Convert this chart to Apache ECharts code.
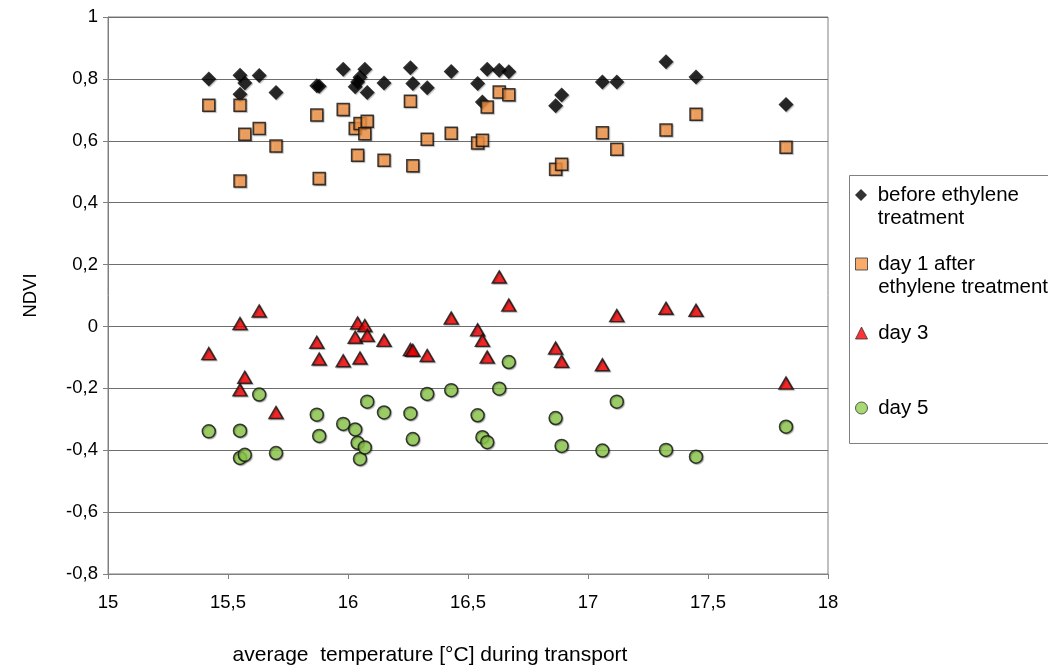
<!DOCTYPE html>
<html><head><meta charset="utf-8">
<script src="https://cdn.jsdelivr.net/npm/echarts@6/dist/echarts.min.js"></script>
<style>html,body{margin:0;padding:0;background:#fff}#c{width:1048px;height:665px}</style>
</head><body><div id="c"></div>
<script>
const temperature = [15.42,15.55,15.55,15.57,15.63,15.70,15.87,15.88,15.98,16.03,16.04,16.05,16.07,16.08,16.15,16.26,16.27,16.33,16.43,16.54,16.56,16.58,16.63,16.67,16.865,16.89,17.06,17.12,17.325,17.45,17.825];
const before = [0.800,0.812,0.750,0.787,0.811,0.756,0.778,0.776,0.831,0.775,0.790,0.805,0.831,0.756,0.787,0.836,0.785,0.771,0.824,0.785,0.725,0.831,0.828,0.823,0.713,0.748,0.790,0.790,0.855,0.806,0.717];
const day1 = [0.715,0.715,0.470,0.621,0.640,0.583,0.683,0.478,0.701,0.640,0.553,0.656,0.623,0.663,0.537,0.728,0.519,0.605,0.624,0.593,0.602,0.709,0.758,0.749,0.508,0.524,0.626,0.573,0.635,0.686,0.579];
const day3 = [-0.088,0.009,-0.205,-0.164,0.050,-0.278,-0.051,-0.105,-0.111,-0.035,0.011,-0.102,0.003,-0.029,-0.045,-0.075,-0.077,-0.094,0.027,-0.011,-0.045,-0.099,0.160,0.069,-0.070,-0.113,-0.124,0.035,0.059,0.052,-0.183];
const day5 = [-0.339,-0.337,-0.425,-0.415,-0.220,-0.409,-0.285,-0.354,-0.315,-0.333,-0.376,-0.428,-0.391,-0.243,-0.278,-0.281,-0.364,-0.218,-0.206,-0.287,-0.358,-0.374,-0.201,-0.115,-0.296,-0.386,-0.401,-0.243,-0.399,-0.421,-0.324];
const seriesNames = ['before ethylene treatment','day 1 after ethylene treatment','day 3','day 5'];
const legendLabels = [' \n before ethylene\n treatment',' \n day 1 after\n ethylene treatment',' day 3',' day 5'];

const FONT = 'Liberation Sans, Arial, sans-serif';
const pairs = v => temperature.map((t,i)=>[t,v[i]]);
const shadow = {shadowColor:'rgba(0,0,0,0.35)',shadowBlur:1,shadowOffsetX:1,shadowOffsetY:1};
const styles = [
  {symbol:'diamond',size:[15,15],item:{color:'#000',borderColor:'#000',borderWidth:0},icon:'diamond'},
  {symbol:'rect',size:[12,12],item:{color:'#F79646',borderColor:'#111',borderWidth:1.5},icon:'rect'},
  {symbol:'triangle',size:[14,12],item:{color:'#FF0000',borderColor:'#111',borderWidth:1.5},icon:'triangle'},
  {symbol:'circle',size:[13,13],item:{color:'#92D050',borderColor:'#111',borderWidth:1.5},icon:'circle'}
];
const data = [before, day1, day3, day5];
const series = data.map((v,i)=>({
  name: seriesNames[i], type:'scatter', data: pairs(v),
  symbol: styles[i].symbol, symbolSize: styles[i].size,
  itemStyle: Object.assign({}, styles[i].item, shadow),
  emphasis:{disabled:true}
}));
const legendCenters = [195, 264, 333, 408];
const LH = 23;
const legends = seriesNames.map((n,i)=>{
  const lines = legendLabels[i].split('\n').length;
  return {
    data:[{name:n, icon: styles[i].icon, itemStyle:{color:styles[i].item.color,borderColor:'#333',borderWidth: i===0?0:1}}],
    left: 855, top: legendCenters[i] - lines*LH/2, orient:'vertical', padding:0,
    itemWidth: 12, itemHeight: 12, itemGap: 4,
    formatter: () => legendLabels[i],
    textStyle:{fontFamily:FONT,fontSize:20.5,color:'#000',lineHeight:LH},
    selectedMode:false
  };
});
const chart = echarts.init(document.getElementById('c'));
chart.setOption({
  animation:false,
  grid:{left:108,right:220,top:17,bottom:91,show:true,borderColor:'#808080',borderWidth:1,containLabel:false,outerBoundsMode:'none'},
  xAxis:{type:'value',min:15,max:18,interval:0.5,
    name:'average  temperature [°C] during transport',nameLocation:'middle',nameGap:71,
    nameTextStyle:{fontFamily:FONT,fontSize:21,color:'#000',padding:[0,76,0,0]},
    axisLine:{show:true,onZero:false,lineStyle:{color:'#808080'}},
    axisTick:{show:true,length:5,lineStyle:{color:'#808080'}},
    axisLabel:{fontFamily:FONT,fontSize:18.5,color:'#000',margin:19,formatter:v=>String(v).replace('.',',')},
    splitLine:{show:false}},
  yAxis:{type:'value',min:-0.8,max:1,interval:0.2,
    name:'NDVI',nameLocation:'middle',nameGap:68,nameRotate:90,
    nameTextStyle:{fontFamily:FONT,fontSize:18.5,color:'#000'},
    axisLine:{show:true,onZero:false,lineStyle:{color:'#808080'}},
    axisTick:{show:true,length:5,lineStyle:{color:'#808080'}},
    axisLabel:{fontFamily:FONT,fontSize:18.5,color:'#000',margin:10,formatter:v=>String(Math.round(v*10)/10).replace('.',',')},
    splitLine:{show:true,lineStyle:{color:'#6e6e6e',width:1}}},
  legend: legends,
  graphic:[{type:'rect',shape:{x:849.5,y:175.5,width:210,height:268},style:{fill:'none',stroke:'#808080',lineWidth:1},z:-1}],
  series
});
</script></body></html>
